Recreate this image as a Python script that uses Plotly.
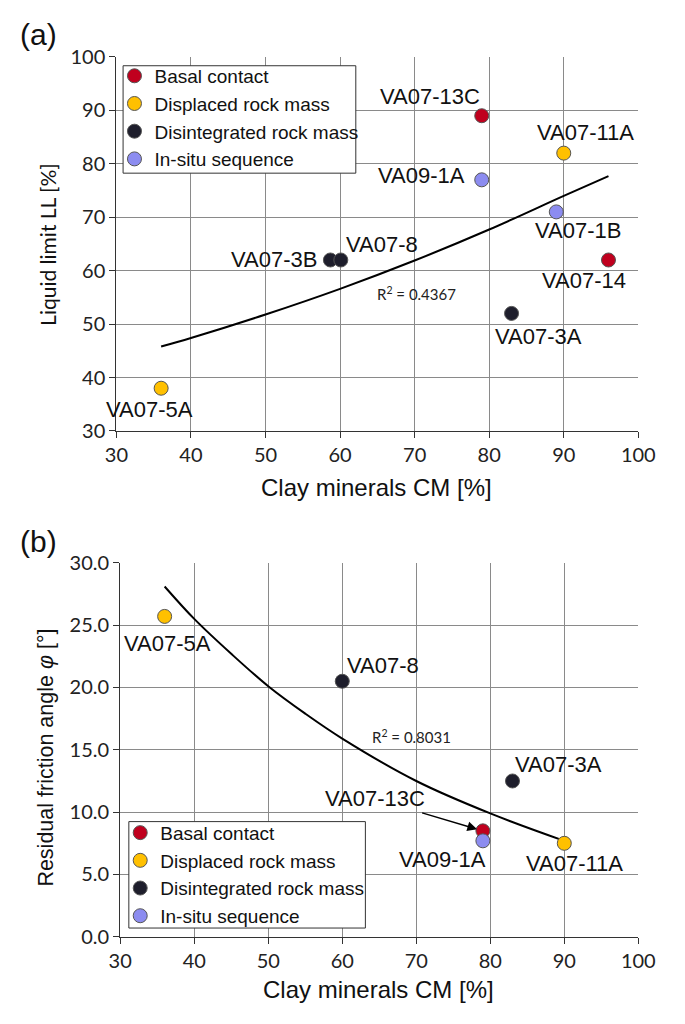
import plotly.graph_objects as go

W, H = 685, 1024

# ---------------- data ----------------
groups = ["Basal contact", "Displaced rock mass", "Disintegrated rock mass", "In-situ sequence"]
group_colors = ["#C0001E", "#FFC000", "#1E1E2C", "#8C8CF0"]

# panel (a): liquid limit vs clay minerals
a_samples = ["VA07-13C", "VA07-14", "VA07-11A", "VA07-5A", "VA07-3B", "VA07-8", "VA07-3A", "VA09-1A", "VA07-1B"]
a_group = [0, 0, 1, 1, 2, 2, 2, 3, 3]
a_cm = [79, 96, 90, 36, 58.7, 60.1, 83, 79, 89]
a_ll = [89, 62, 82, 38, 62, 62, 52, 77, 71]
a_trend_cm = [36, 40, 50, 60, 70, 80, 90, 96]
a_trend_ll = [45.8, 47.4, 51.8, 56.6, 61.9, 67.7, 74.0, 77.7]
a_r2 = "R<sup>2</sup> = 0.4367"
a_xtitle = "Clay minerals CM [%]"
a_ytitle = "Liquid limit LL [%]"

# panel (b): residual friction angle vs clay minerals
b_samples = ["VA07-13C", "VA07-11A", "VA07-5A", "VA07-8", "VA07-3A", "VA09-1A"]
b_group = [0, 1, 1, 2, 2, 3]
b_cm = [79, 90, 36, 60, 83, 79]
b_phi = [8.5, 7.5, 25.7, 20.5, 12.5, 7.7]
b_trend_cm = [36, 40, 45, 50, 55, 60, 70, 80, 90]
b_trend_phi = [28.1, 25.5, 22.7, 20.1, 17.9, 15.9, 12.5, 9.9, 7.7]
b_r2 = "R<sup>2</sup> = 0.8031"
b_xtitle = "Clay minerals CM [%]"
b_ytitle = "Residual friction angle <i>φ</i> [°]"

x_ticks = [30, 40, 50, 60, 70, 80, 90, 100]
a_y_ticks = [30, 40, 50, 60, 70, 80, 90, 100]
b_y_ticks = [0, 5, 10, 15, 20, 25, 30]

# ---------------- layout geometry (pixels) ----------------
A_X = (109, 654); A_Y = (45, 428)
B_X = (113, 654); B_Y = (563, 946)

def xdom(p):
    return [p[0] / W, p[1] / W]

def ydom(p):
    return [1 - p[1] / H, 1 - p[0] / H]

def px(x, y):
    return x / W, 1 - y / H

# label offsets (center of label relative to point, px; +dy = downwards)
a_offsets = {
    "VA07-13C": (-52, -19), "VA07-11A": (22, -21), "VA09-1A": (-60, -4),
    "VA07-1B": (22, 19), "VA07-14": (-24, 21), "VA07-3A": (27, 23),
    "VA07-3B": (-56, 0), "VA07-8": (41, -15), "VA07-5A": (-12, 21),
}
b_offsets = {
    "VA07-5A": (3, 27), "VA07-8": (41, -16), "VA07-3A": (46, -16),
    "VA09-1A": (-40, 19), "VA07-11A": (10, 20),
}
b_arrow = {"VA07-13C": (-108, -32)}

ARIAL = "Liberation Sans, Arial, sans-serif"
CALIBRI = "Lato, Open Sans, sans-serif"
LABEL_FONT = dict(family=ARIAL, size=22, color="#111")
TICK_FONT = dict(family=CALIBRI, size=20, color="#222")
LEGEND_FONT = dict(family=ARIAL, size=19, color="#111")

fig = go.Figure()

# trend lines
fig.add_trace(go.Scatter(x=a_trend_cm, y=a_trend_ll, mode="lines", line=dict(color="black", width=2, shape="spline"),
                         showlegend=False, hoverinfo="skip", xaxis="x", yaxis="y"))
fig.add_trace(go.Scatter(x=b_trend_cm, y=b_trend_phi, mode="lines", line=dict(color="black", width=2, shape="spline"),
                         showlegend=False, hoverinfo="skip", xaxis="x2", yaxis="y2"))

# points by group
for gi, gname in enumerate(groups):
    xs = [a_cm[i] for i in range(len(a_cm)) if a_group[i] == gi]
    ys = [a_ll[i] for i in range(len(a_ll)) if a_group[i] == gi]
    fig.add_trace(go.Scatter(x=xs, y=ys, mode="markers", name=gname, legend="legend",
                             marker=dict(size=14, color=group_colors[gi], line=dict(color="#555", width=1)),
                             xaxis="x", yaxis="y"))
for gi, gname in enumerate(groups):
    xs = [b_cm[i] for i in range(len(b_cm)) if b_group[i] == gi]
    ys = [b_phi[i] for i in range(len(b_phi)) if b_group[i] == gi]
    fig.add_trace(go.Scatter(x=xs, y=ys, mode="markers", name=gname, legend="legend2",
                             marker=dict(size=14, color=group_colors[gi], line=dict(color="#555", width=1)),
                             xaxis="x2", yaxis="y2"))

annotations = []
for s, x, y in zip(a_samples, a_cm, a_ll):
    dx, dy = a_offsets[s]
    annotations.append(dict(x=x, y=y, xref="x", yref="y", text=s, showarrow=False, xshift=dx, yshift=-dy,
                            xanchor="center", yanchor="middle", font=LABEL_FONT))
for s, x, y in zip(b_samples, b_cm, b_phi):
    if s in b_offsets:
        dx, dy = b_offsets[s]
        annotations.append(dict(x=x, y=y, xref="x2", yref="y2", text=s, showarrow=False, xshift=dx, yshift=-dy,
                                xanchor="center", yanchor="middle", font=LABEL_FONT))
    else:
        ax, ay = b_arrow[s]
        annotations.append(dict(x=x, y=y, xref="x2", yref="y2", text=s, showarrow=True, ax=ax, ay=ay,
                                arrowhead=2, arrowsize=1.3, arrowwidth=1.5, arrowcolor="black", standoff=6,
                                font=LABEL_FONT))

def paper_text(x, y, text, font, angle=0):
    X, Y = px(x, y)
    return dict(x=X, y=Y, xref="paper", yref="paper", text=text, showarrow=False, textangle=angle,
                xanchor="center", yanchor="middle", font=font)

annotations.append(paper_text(422, 287, a_r2, dict(family=CALIBRI, size=15, color="#222")))
annotations.append(paper_text(417, 741, b_r2, dict(family=CALIBRI, size=15, color="#222")))
annotations.append(paper_text(28, 22, "(a)", dict(family=ARIAL, size=30, color="#111")))
annotations.append(paper_text(28, 541, "(b)", dict(family=ARIAL, size=30, color="#111")))
# axis titles
annotations.append(paper_text(37, 237, a_ytitle, dict(family=CALIBRI, size=21, color="#111"), angle=-90))
annotations.append(paper_text(36, 762, b_ytitle, dict(family=ARIAL, size=21.5, color="#111"), angle=-90))
annotations.append(paper_text(381, 486, a_xtitle, dict(family=ARIAL, size=24, color="#111")))
annotations.append(paper_text(383, 1000, b_xtitle, dict(family=ARIAL, size=24, color="#111")))

# legend frames
shapes = []
for (x0, y0, x1, y1) in [(116, 54, 359, 164), (122, 828, 369, 937)]:
    X0, Y0 = px(x0, y0)
    X1, Y1 = px(x1, y1)
    shapes.append(dict(type="rect", xref="paper", yref="paper", x0=X0, y0=Y1, x1=X1, y1=Y0,
                       line=dict(color="#333", width=1), fillcolor="white", layer="above"))

axis_common = dict(showgrid=True, gridcolor="#8a8a8a", gridwidth=1, showline=True, linecolor="#333", linewidth=1.2,
                   ticks="outside", ticklen=6, tickcolor="#333", tickfont=TICK_FONT, zeroline=False)

lx1, ly1 = px(107, 45)
lx2, ly2 = px(113, 820)

fig.update_layout(
    width=W, height=H, margin=dict(l=0, r=0, t=0, b=0),
    paper_bgcolor="white", plot_bgcolor="white",
    showlegend=True,
    xaxis=dict(domain=xdom(A_X), range=[30, 100], tickvals=x_ticks, anchor="y", **axis_common),
    yaxis=dict(domain=ydom(A_Y), range=[30, 100], tickvals=a_y_ticks, anchor="x", **axis_common),
    xaxis2=dict(domain=xdom(B_X), range=[30, 100], tickvals=x_ticks, anchor="y2", **axis_common),
    yaxis2=dict(domain=ydom(B_Y), range=[0, 30], tickvals=b_y_ticks, tickformat=".1f", anchor="x2",
                **axis_common),
    legend=dict(x=lx1, y=ly1, xanchor="left", yanchor="top", bgcolor="rgba(0,0,0,0)",
                borderwidth=0, font=LEGEND_FONT, tracegroupgap=0, itemwidth=30),
    legend2=dict(x=lx2, y=ly2, xanchor="left", yanchor="top", bgcolor="rgba(0,0,0,0)",
                 borderwidth=0, font=LEGEND_FONT, tracegroupgap=0, itemwidth=30),
    annotations=annotations,
    shapes=shapes,
)

fig.write_html("out.html")
